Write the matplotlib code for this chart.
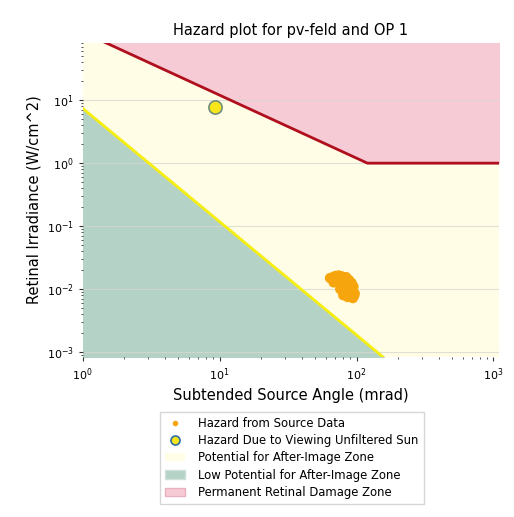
import numpy as np
import matplotlib.pyplot as plt
from matplotlib.lines import Line2D
from matplotlib.patches import Patch

# Hazard boundaries (subtended angle in mrad, retinal irradiance in W/cm^2)
perm_angle = [1, 120, 1100]
perm_irr = [120, 1.0, 1.0]
after_angle = [1, 1100]
after_irr = [7.4, 2.5e-5]

# Glare source points
src_angle = [64, 67, 70, 74, 78, 84, 88, 92, 95, 97, 68, 74, 80, 85, 90, 76, 82, 87, 92, 96, 80, 86, 94]
src_irr = [0.015, 0.0155, 0.0162, 0.0165, 0.016, 0.0155, 0.014, 0.0126, 0.011, 0.0085,
           0.0128, 0.0125, 0.0126, 0.012, 0.011, 0.0100, 0.0098, 0.0096, 0.0092, 0.0078,
           0.0080, 0.0075, 0.0072]

sun_angle = [9.3]
sun_irr = [7.7]

xlim = (1, 1100)
ylim = (8.3e-4, 81)

fig = plt.figure(figsize=(5.14, 5.17), dpi=100)
ax = fig.add_axes([0.161, 0.309, 0.81, 0.608])
ax.set_xscale('log')
ax.set_yscale('log')
ax.set_xlim(*xlim)
ax.set_ylim(*ylim)

ax.set_facecolor('#fffde5')
ax.fill_between(perm_angle, perm_irr, 1e3, color='#f6cbd6', zorder=1)
ax.fill_between(after_angle, 1e-5, after_irr, color='#b4d2c6', zorder=1)
ax.plot(perm_angle, perm_irr, color='#b0101e', lw=2, zorder=3)
ax.plot(after_angle, after_irr, color='#f5ee10', lw=2, zorder=3)

ax.grid(True, axis='y', which='major', color='#d8d8d0', lw=0.8, alpha=0.8, zorder=2)

ax.scatter(src_angle, src_irr, s=55, color='#f7a50c', edgecolors='none', zorder=4)
ax.scatter(sun_angle, sun_irr, s=90, color='#f8e61a', edgecolors='#6f8f7a', linewidths=1.2, zorder=5)

for s in ax.spines.values():
    s.set_visible(False)
ax.tick_params(which='both', direction='out', labelsize=8, color='#333333')
ax.tick_params(which='major', length=3)
ax.tick_params(which='minor', length=1.5)

ax.set_title('Hazard plot for pv-feld and OP 1', fontsize=10.5, pad=6)
ax.set_xlabel('Subtended Source Angle (mrad)', fontsize=10.5)
ax.set_ylabel('Retinal Irradiance (W/cm^2)', fontsize=10.5)

handles = [
    Line2D([], [], ls='none', marker='o', ms=4, color='#f7a50c', mec='none'),
    Line2D([], [], ls='none', marker='o', ms=6.5, color='#f8e61a', mec='#2f6fa0', mew=1.2),
    Patch(facecolor='#fffde5', edgecolor='none'),
    Patch(facecolor='#b4d2c6', edgecolor='#cfe0d8'),
    Patch(facecolor='#f6cbd6', edgecolor='#eab0c0'),
]
labels = ['Hazard from Source Data', 'Hazard Due to Viewing Unfiltered Sun',
          'Potential for After-Image Zone', 'Low Potential for After-Image Zone',
          'Permanent Retinal Damage Zone']
fig.legend(handles, labels, loc='upper center', bbox_to_anchor=(0.568, 0.215),
           fontsize=8.4, frameon=True, edgecolor='#cccccc', fancybox=False,
           handlelength=1.7, handletextpad=1.1, labelspacing=0.36, borderpad=0.45)

fig.savefig('out.png', dpi=100)
